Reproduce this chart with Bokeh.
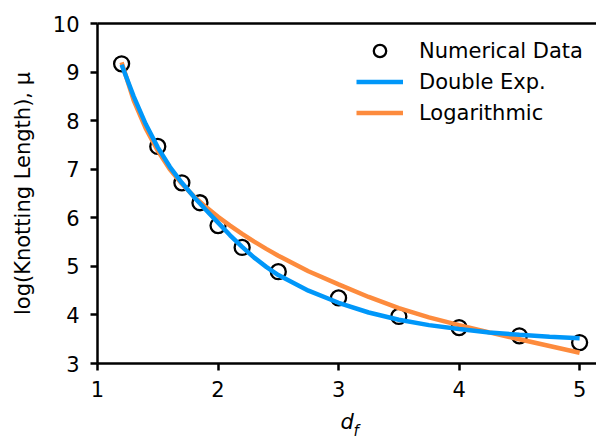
from bokeh.plotting import figure
from bokeh.models import (Range1d, LinearAxis, FixedTicker, Legend, LegendItem,
                          Label, ColumnDataSource)
from bokeh.embed import file_html
from bokeh.resources import INLINE

# ---- data ----
d_f = [1.2, 1.5, 1.7, 1.85, 2.0, 2.2, 2.5, 3.0, 3.5, 4.0, 4.5, 5.0]
mu_data = [9.17, 7.47, 6.72, 6.31, 5.84, 5.39, 4.89, 4.35, 3.97, 3.74, 3.57, 3.43]

fit_x = [1.2, 1.3, 1.4, 1.5, 1.6, 1.7, 1.8, 1.9, 2.0, 2.1, 2.2, 2.3, 2.4, 2.5,
         2.75, 3.0, 3.25, 3.5, 3.75, 4.0, 4.25, 4.5, 4.75, 5.0]
double_exp = [9.15, 8.50, 7.93, 7.45, 7.05, 6.72, 6.43, 6.16, 5.90, 5.64, 5.40, 5.18,
              4.99, 4.82, 4.50, 4.25, 4.05, 3.90, 3.79, 3.71, 3.64, 3.59, 3.55, 3.52]
logarithmic = [9.20, 8.42, 7.84, 7.38, 7.00, 6.70, 6.44, 6.22, 6.02, 5.84, 5.67, 5.51,
               5.36, 5.22, 4.90, 4.63, 4.37, 4.14, 3.95, 3.79, 3.64, 3.50, 3.36, 3.22]

x_ticks = [1, 2, 3, 4, 5]
y_ticks = [3, 4, 5, 6, 7, 8, 9, 10]

FONT = "DejaVu Sans"
FS = "21px"
BLUE = "#0097f9"
ORANGE = "#fd8b3d"

p = figure(width=596, height=436, x_range=Range1d(1, 5.14), y_range=Range1d(3, 10),
           output_backend="svg", toolbar_location=None,
           min_border_left=97, min_border_right=0, min_border_top=23, min_border_bottom=73)
p.outline_line_color = None
p.xgrid.grid_line_color = None
p.ygrid.grid_line_color = None
p.background_fill_color = "white"
p.border_fill_color = "white"

for ax in (p.xaxis[0], p.yaxis[0]):
    ax.axis_line_width = 2.5
    ax.axis_line_color = "black"
    ax.major_tick_line_width = 2.5
    ax.major_tick_line_color = "black"
    ax.major_tick_out = 7
    ax.major_tick_in = 0
    ax.minor_tick_line_color = None
    ax.major_label_text_font = FONT
    ax.major_label_text_font_size = FS
    ax.major_label_text_color = "black"

p.xaxis[0].ticker = FixedTicker(ticks=x_ticks)
p.yaxis[0].ticker = FixedTicker(ticks=y_ticks)
p.xaxis[0].major_label_standoff = 10
p.yaxis[0].major_label_standoff = 11

p.yaxis[0].axis_label = "log(Knotting Length), μ"
p.yaxis[0].axis_label_text_font = FONT
p.yaxis[0].axis_label_text_font_size = FS
p.yaxis[0].axis_label_text_font_style = "normal"
p.yaxis[0].axis_label_text_color = "black"
p.yaxis[0].axis_label_standoff = 15

# top spine
top = LinearAxis(ticker=FixedTicker(ticks=[]), axis_line_width=2.5, axis_line_color="black",
                 major_tick_line_color=None, minor_tick_line_color=None,
                 major_tick_out=0, major_tick_in=0, major_label_standoff=0,
                 major_label_text_font_size="0px")
p.add_layout(top, "above")

# data
src = ColumnDataSource(dict(x=d_f, y=mu_data))
r_pts = p.scatter("x", "y", source=src, marker="circle", size=15, fill_color=None,
                  line_color="black", line_width=2.3)
r_log = p.line(fit_x, logarithmic, line_color=ORANGE, line_width=4.5)
r_dexp = p.line(fit_x, double_exp, line_color=BLUE, line_width=4.5)

legend = Legend(items=[LegendItem(label="Numerical Data", renderers=[r_pts]),
                       LegendItem(label="Double Exp.", renderers=[r_dexp]),
                       LegendItem(label="Logarithmic", renderers=[r_log])],
                location=(259, 235))
legend.label_text_font = FONT
legend.label_text_font_size = FS
legend.label_text_color = "black"
legend.border_line_color = None
legend.background_fill_alpha = 0
legend.glyph_width = 47
legend.glyph_height = 31
legend.label_height = 31
legend.label_standoff = 16
legend.padding = 5
legend.spacing = 0
legend.margin = 0
p.add_layout(legend)

# x axis label "d_f": italic d below the axis, subscript f (side panels, not clipped)
p.add_layout(Label(x=243, y=2, x_units="screen", y_units="screen", text="d",
                   text_font=FONT, text_font_size=FS, text_font_style="italic",
                   text_baseline="alphabetic", text_align="left", text_color="black"), "below")
p.add_layout(Label(x=256, y=-407.5, x_units="screen", y_units="screen", text="f",
                   text_font=FONT, text_font_size="15px", text_font_style="italic",
                   text_baseline="alphabetic", text_align="left", text_color="black"), "above")

open("out.html", "w").write(file_html(p, INLINE))
